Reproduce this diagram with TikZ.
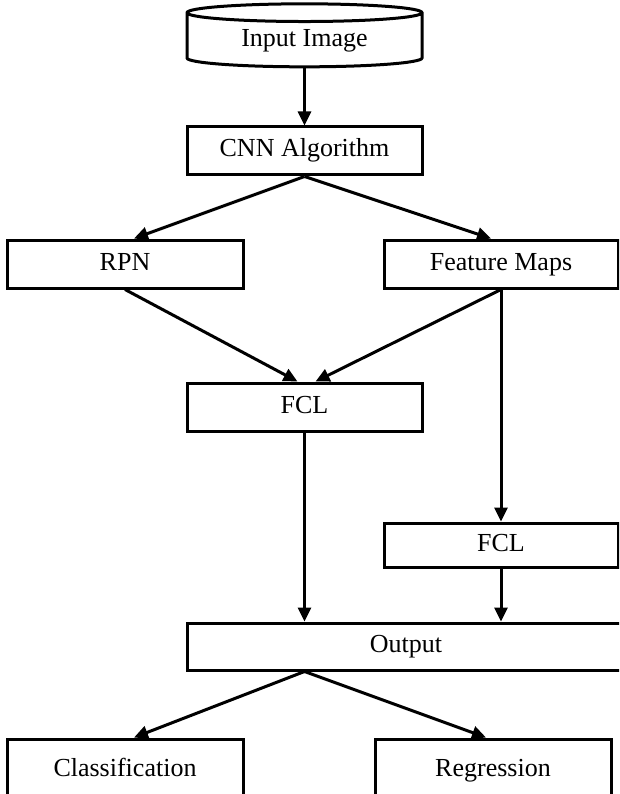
\documentclass[tikz,border=0pt]{standalone}
\usepackage{fontspec}
\setmainfont{Liberation Serif}
\usetikzlibrary{shapes.geometric}
\usetikzlibrary{arrows.meta}

\begin{document}
\begin{tikzpicture}[x=1pt,y=-1pt,line width=3pt,
    >={Triangle[length=14pt,width=13pt]},
    box/.style={draw,rectangle,minimum height=48pt,inner sep=0pt,
      text height=18pt,text depth=6pt,
      font=\fontsize{26}{31}\selectfont},
    dbase/.style={draw,cylinder,shape border rotate=90,shape aspect=0.14,
      minimum width=235pt,minimum height=63pt,inner sep=0pt,
      text height=18pt,text depth=6pt,
      font=\fontsize{26}{31}\selectfont}]

      \useasboundingbox (0,0) rectangle (619,794);
      \clip (0,0) rectangle (619,794);

      % input
      \node[dbase] (inp) at (304.5,40.5) {Input Image};

      % boxes
      \node[box,minimum width=235pt] (cnn) at (304.5,151) {CNN Algorithm};
      \node[box,minimum width=236pt] (rpn) at (125,264) {RPN};
      \node[box,minimum width=234pt] (fmap) at (501,264) {Feature Maps};
      \node[box,minimum width=235pt] (fcla) at (304.5,407) {FCL};
      \node[box,minimum width=234pt,minimum height=44pt] (fclb) at (501,545) {FCL};
      \node[box,minimum width=438pt,minimum height=47pt] (outp) at (406,646.5) {Output};
      \node[box,minimum width=236pt,minimum height=62pt] (cls) at (125,770) {Classification};
      \node[box,minimum width=236pt,minimum height=62pt] (reg) at (493,770) {Regression};

      % arrows
      \draw[->] (inp.south) -- (cnn.north);
      \draw[->] (cnn.south) -- ([xshift=9pt]rpn.north);
      \draw[->] (cnn.south) -- ([xshift=-10pt]fmap.north);
      \draw[->] (rpn.south) -- ([xshift=-7pt]fcla.north);
      \draw[->] (fmap.south) -- ([xshift=11pt]fcla.north);
      \draw[->] (fmap.south) -- (fclb.north);
      \draw[->] (fcla.south) -- (fcla.south |- outp.north);
      \draw[->] (fclb.south) -- (fclb.south |- outp.north);
      \draw[->] (fcla.south |- outp.south) -- ([xshift=9pt]cls.north);
      \draw[->] (fcla.south |- outp.south) -- ([xshift=-7pt]reg.north);

\end{tikzpicture}
\end{document}
